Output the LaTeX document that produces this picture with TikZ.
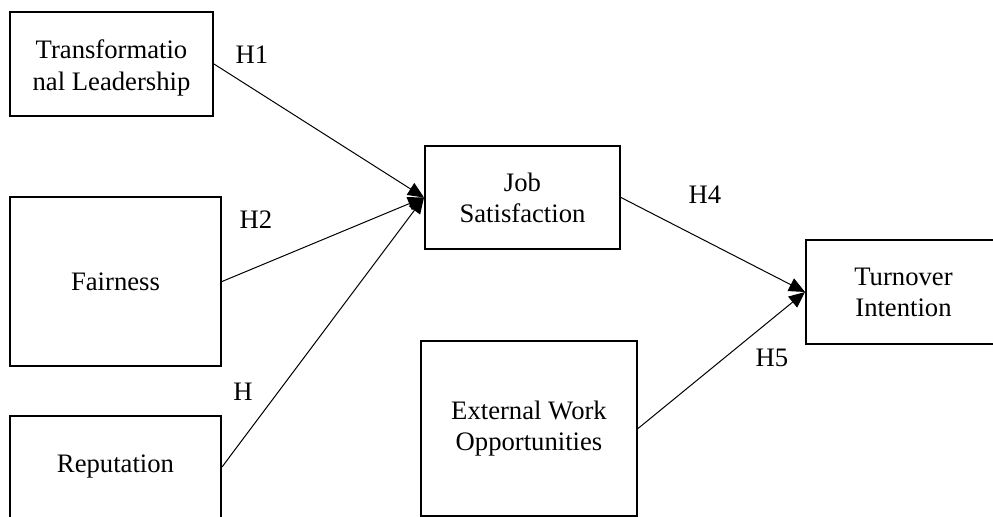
\documentclass[tikz,border=0pt]{standalone}
\usepackage{fontspec}
\setmainfont{Liberation Serif}
\usetikzlibrary{arrows.meta}

\tikzset{every picture/.style={line width=0.75pt}}
\tikzset{
  varbox/.style={draw, line width=1.5, align=center, inner sep=0pt, font=\fontsize{20}{23.3}\selectfont},
  hyplabel/.style={inner sep=0.75pt, font=\fontsize{20}{23.3}\selectfont},
  hyparrow/.style={-{Triangle[length=12pt,width=10.5pt]}}
}

\begin{document}
\begin{tikzpicture}[x=0.75pt,y=0.75pt,yscale=-1,xscale=1]
\useasboundingbox (0,0) rectangle (993,517);

%Shape: Rectangle [id:tl]
\node [varbox, minimum width=203*0.75pt, minimum height=104*0.75pt] (tl) at (111.5,64) {\rule{0pt}{20pt}Transformatio\\nal Leadership};
%Shape: Rectangle [id:fair]
\node [varbox, minimum width=211*0.75pt, minimum height=169*0.75pt] (fair) at (115.5,281.5) {Fairness};
%Shape: Rectangle [id:rep]
\node [varbox, minimum width=211*0.75pt, minimum height=102*0.75pt] (rep) at (115.5,467) {Reputation};
%Shape: Rectangle [id:js]
\node [varbox, minimum width=195*0.75pt, minimum height=103*0.75pt] (js) at (522.5,197.5) {Job\\Satisfaction};
%Shape: Rectangle [id:ti]
\node [varbox, minimum width=195*0.75pt, minimum height=104*0.75pt] (ti) at (903.5,292) {Turnover\\Intention};
%Shape: Rectangle [id:ewo]
\node [varbox, minimum width=216*0.75pt, minimum height=175*0.75pt] (ewo) at (529,428.5) {External Work\\Opportunities};

%Straight Lines
\draw [hyparrow] (tl.east) -- (js.west) ;
%Straight Lines
\draw [hyparrow] (fair.east) -- (js.west) ;
%Straight Lines
\draw [hyparrow] (rep.east) -- (js.west) ;
%Straight Lines
\draw [hyparrow] (js.east) -- (ti.west) ;
%Straight Lines
\draw [hyparrow] (ewo.east) -- (ti.west) ;

% Text Node
\node [hyplabel] (h1) at (252,55) {H1};
% Text Node
\node [hyplabel] (h2) at (256,220) {H2};
% Text Node
\node [hyplabel] (h3) at (243,392) {H};
% Text Node
\node [hyplabel] (h4) at (705,195) {H4};
% Text Node
\node [hyplabel] (h5) at (772,358) {H5};

\end{tikzpicture}
\end{document}
